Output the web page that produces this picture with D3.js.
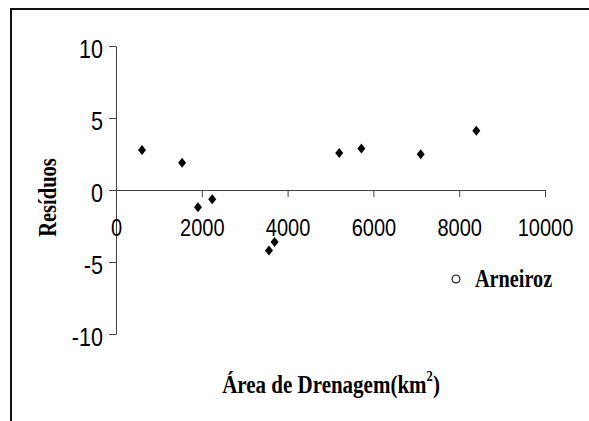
<!DOCTYPE html>
<html><head><meta charset="utf-8">
<script src="https://cdn.jsdelivr.net/npm/d3@7"></script>
<style>body{margin:0;background:#fff}</style>
</head><body>
<svg id="c" width="589" height="421"></svg>
<script>
const areas = [606, 1541, 1911, 2243, 3566, 3697, 5203, 5720, 7103, 8399];
const residuals = [2.78, 1.90, -1.20, -0.65, -4.21, -3.61, 2.57, 2.89, 2.48, 4.12];
const xTicks = [0, 2000, 4000, 6000, 8000, 10000];
const yTicks = [-10, -5, 0, 5, 10];
const seriesName = "Arneiroz";
const xTitle = "Área de Drenagem(km";
const yTitle = "Resíduos";

const SERIF = '"Liberation Serif"';
const SANS = '"Liberation Sans"';

const svg = d3.select("#c");
svg.append("rect").attr("width",589).attr("height",421).attr("fill","#fff");
svg.append("path").attr("d","M11,421 L11,9 L589,9").attr("fill","none").attr("stroke","#111").attr("stroke-width",2);

const x = d3.scaleLinear().domain([0,10000]).range([116,545]);
const y = d3.scaleLinear().domain([-10,10]).range([334,46]);

function condense(sel, f){
  sel.each(function(){
    const L = this.getComputedTextLength();
    d3.select(this).attr("textLength", L*f).attr("lengthAdjust","spacingAndGlyphs");
  });
}
const fmt = d => String(d);

const yAxis = svg.append("g").attr("transform",`translate(${x(0)},0)`)
  .call(d3.axisLeft(y).tickValues(yTicks).tickSize(7).tickSizeOuter(0).tickPadding(6).tickFormat(fmt));
yAxis.selectAll("path,line").attr("stroke","#444");
yAxis.selectAll("text").style("font-family",SANS).style("font-size","26px")
  .attr("fill","#000").attr("dy","11px").call(condense,0.83);

const xAxis = svg.append("g").attr("transform",`translate(0,${y(0)})`)
  .call(d3.axisBottom(x).tickValues(xTicks).tickSize(7).tickSizeOuter(0).tickFormat(fmt));
xAxis.selectAll("path,line").attr("stroke","#444");
xAxis.selectAll("text").style("font-family",SANS).style("font-size","23px")
  .attr("fill","#000").attr("y",45.7).attr("dy",0).call(condense,0.87);

svg.append("g").selectAll("path").data(areas).join("path")
  .attr("d","M0,-5L4,0L0,5L-4,0Z")
  .attr("transform",(d,i)=>`translate(${x(d)},${y(residuals[i])})`)
  .attr("fill","#000");

svg.append("circle").attr("cx",456).attr("cy",279).attr("r",4).attr("fill","#fff").attr("stroke","#000").attr("stroke-width",1);
svg.append("text").attr("transform","translate(475,287) scale(0.81,1)")
  .style("font-family",SERIF).style("font-weight","bold").style("font-size","25px").text(seriesName);

const xt = svg.append("text").attr("transform","translate(331,393) scale(0.84,1)")
  .attr("text-anchor","middle")
  .style("font-family",SERIF).style("font-weight","bold").style("font-size","25px");
xt.append("tspan").text(xTitle);
xt.append("tspan").style("font-size","15px").attr("dy",-12).text("2");
xt.append("tspan").attr("dy",12).text(")");

svg.append("text").attr("transform","translate(47,197.5) rotate(-90) scale(0.82,1)")
  .attr("text-anchor","middle").attr("dy",8.5)
  .style("font-family",SERIF).style("font-weight","bold").style("font-size","25px")
  .text(yTitle);
</script>
</body></html>
